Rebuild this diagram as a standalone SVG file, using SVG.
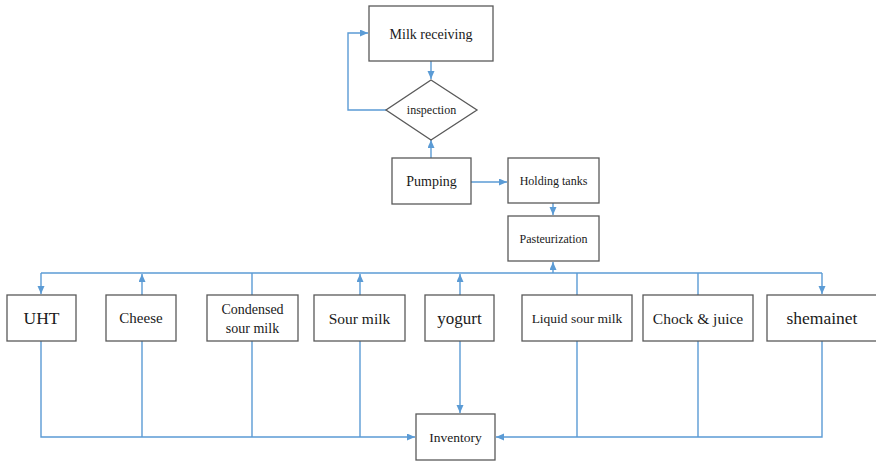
<svg xmlns="http://www.w3.org/2000/svg" width="876" height="461" viewBox="0 0 876 461">
  <style>
    .box { fill: #ffffff; stroke: #595959; stroke-width: 1.3; }
    .lbl { fill: #1a1a1a; text-anchor: middle; dominant-baseline: central; }
    .wire { fill: none; stroke: #5b9bd5; stroke-width: 1.4; }
    .arr { marker-end: url(#tip); }
  </style>
  <defs>
    <marker id="tip" markerUnits="userSpaceOnUse" markerWidth="9" markerHeight="8" refX="8" refY="3.5" orient="auto">
      <path d="M0,0 L8,3.5 L0,7 z" fill="#5b9bd5"/>
    </marker>
  </defs>
  <rect width="876" height="461" fill="#ffffff"/>

  <!-- Flow connectors -->
  <g id="connectors">
    <path class="wire arr" d="M431 61 V79"/>
    <path class="wire arr" d="M386 110 H348 V33 H368"/>
    <path class="wire arr" d="M431 158 V140"/>
    <path class="wire arr" d="M471 182 H507"/>
    <path class="wire arr" d="M553 203 V215"/>

    <!-- distribution bus from pasteurization -->
    <path class="wire" d="M41 273 H822"/>
    <path class="wire arr" d="M553 273 V262"/>
    <path class="wire arr" d="M41 273 V294"/>
    <path class="wire arr" d="M142 295 V274"/>
    <path class="wire" d="M252 295 V273"/>
    <path class="wire arr" d="M360 295 V274"/>
    <path class="wire arr" d="M460 295 V274"/>
    <path class="wire" d="M577 295 V273"/>
    <path class="wire" d="M698 295 V273"/>
    <path class="wire arr" d="M822 273 V294"/>

    <!-- collection lines into inventory -->
    <path class="wire arr" d="M41 341 V437 H415"/>
    <path class="wire" d="M142 341 V437"/>
    <path class="wire" d="M252 341 V437"/>
    <path class="wire" d="M360 341 V437"/>
    <path class="wire arr" d="M460 341 V413"/>
    <path class="wire arr" d="M822 341 V437 H496"/>
    <path class="wire" d="M577 341 V437"/>
    <path class="wire" d="M698 341 V437"/>
  </g>

  <g font-family="'Liberation Serif', 'DejaVu Serif', serif">
  <g id="milk-receiving">
    <rect class="box" x="369" y="6" width="124" height="55"/>
    <text class="lbl" x="431" y="34" font-size="14">Milk receiving</text>
  </g>
  <g id="inspection">
    <path class="box" d="M431 80 L477 110 L431 140 L386 110 Z"/>
    <text class="lbl" x="431.5" y="110" font-size="12">inspection</text>
  </g>
  <g id="pumping">
    <rect class="box" x="392" y="158" width="79" height="46"/>
    <text class="lbl" x="431.5" y="181" font-size="14">Pumping</text>
  </g>
  <g id="holding-tanks">
    <rect class="box" x="508" y="158" width="91" height="45"/>
    <text class="lbl" x="553.5" y="181" font-size="12">Holding tanks</text>
  </g>
  <g id="pasteurization">
    <rect class="box" x="508" y="216" width="91" height="45"/>
    <text class="lbl" x="553.5" y="239" font-size="12">Pasteurization</text>
  </g>

  <g id="uht">
    <rect class="box" x="7" y="295" width="69" height="46"/>
    <text class="lbl" x="41.5" y="318" font-size="17.5">UHT</text>
  </g>
  <g id="cheese">
    <rect class="box" x="106" y="295" width="70" height="46"/>
    <text class="lbl" x="141" y="318" font-size="15">Cheese</text>
  </g>
  <g id="condensed-sour-milk">
    <rect class="box" x="207" y="295" width="91" height="46"/>
    <text class="lbl" x="252.5" y="309" font-size="14">Condensed</text>
    <text class="lbl" x="252.5" y="328" font-size="14">sour milk</text>
  </g>
  <g id="sour-milk">
    <rect class="box" x="314" y="295" width="91" height="46"/>
    <text class="lbl" x="359.5" y="318" font-size="15.5">Sour milk</text>
  </g>
  <g id="yogurt">
    <rect class="box" x="425" y="295" width="69" height="46"/>
    <text class="lbl" x="459.5" y="318" font-size="17">yogurt</text>
  </g>
  <g id="liquid-sour-milk">
    <rect class="box" x="522" y="295" width="110" height="46"/>
    <text class="lbl" x="577" y="318" font-size="13.5">Liquid sour milk</text>
  </g>
  <g id="chock-juice">
    <rect class="box" x="643" y="295" width="110" height="46"/>
    <text class="lbl" x="698" y="318" font-size="15.5">Chock &amp; juice</text>
  </g>
  <g id="shemainet">
    <rect class="box" x="767" y="295" width="110" height="46"/>
    <text class="lbl" x="822" y="318" font-size="17.5">shemainet</text>
  </g>

  <g id="inventory">
    <rect class="box" x="416" y="414" width="79" height="46"/>
    <text class="lbl" x="455.5" y="437" font-size="13.5">Inventory</text>
  </g>
  </g>
</svg>
